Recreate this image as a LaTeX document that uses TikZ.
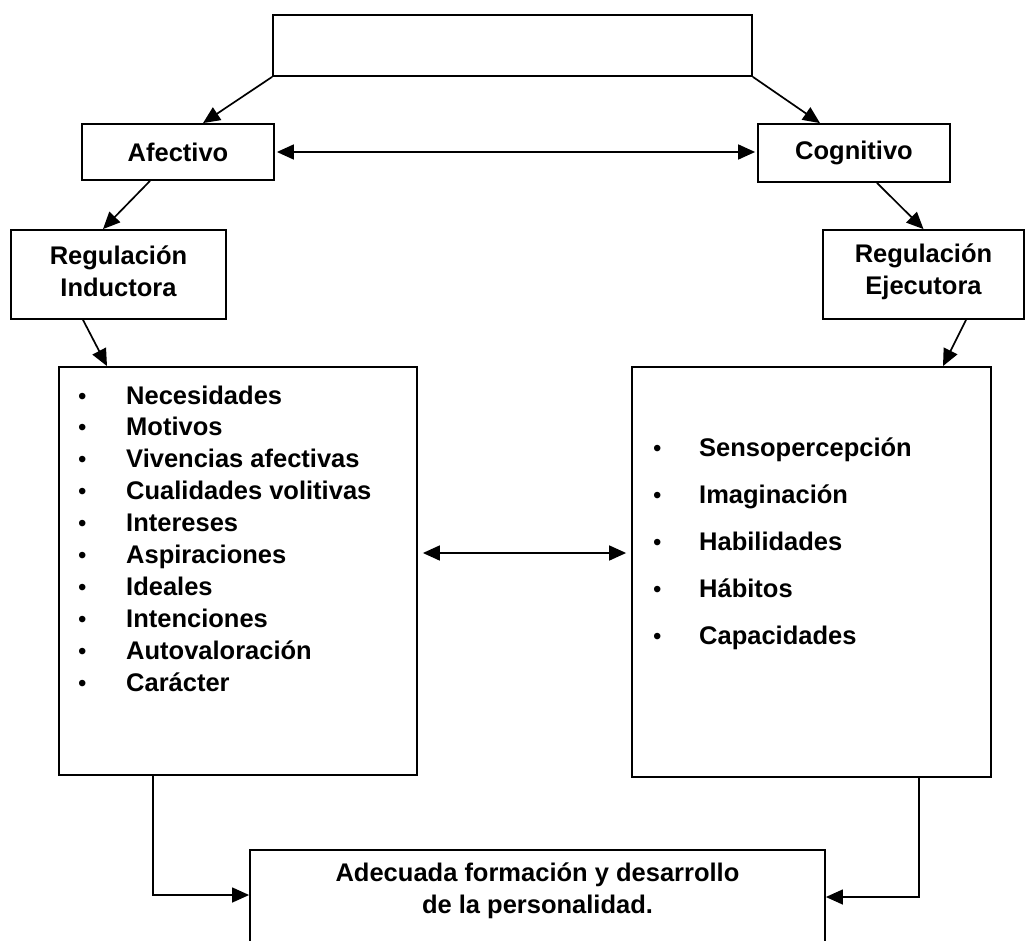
\documentclass[tikz,border=0pt]{standalone}
\usepackage{fontspec}
\setmainfont{Liberation Sans}
\usetikzlibrary{arrows.meta}
\begin{document}
\begin{tikzpicture}[x=1pt,y=-1pt,
  box/.style={draw, line width=1.8pt, inner sep=0pt, align=center,
    font=\fontsize{25.5}{32}\selectfont\bfseries},
  tip/.tip={Triangle[length=17pt,width=15pt]},
  conn/.style={line width=1.7pt, -tip},
  dconn/.style={line width=1.7pt, tip-tip},
  item/.style={anchor=base west, inner sep=0pt, font=\fontsize{25.5}{32}\selectfont\bfseries},
  bul/.style={anchor=base west, inner sep=0pt, font=\fontsize{24}{28}\selectfont}]
\useasboundingbox (0,0) rectangle (1027,941);
\clip (0,0) rectangle (1027,941);

% boxes
\node[box, minimum width=479pt, minimum height=61pt] (top) at (512.5,45.5) {};
\node[box, minimum width=192pt, minimum height=56pt] (afe) at (178,152) {Afectivo};
\node[box, minimum width=192pt, minimum height=58pt] (cog) at (854,153) {Cognitivo};
\node[box, minimum width=215pt, minimum height=89pt] (ri) at (118.5,274.5) {};
\node[box, minimum width=201pt, minimum height=89pt] (re) at (923.5,274.5) {};
\node[box, draw=none] (ritext) at (118.5,271.5) {Regulación\\Inductora};
\node[box, draw=none] (retext) at (923.5,271.5) {Regulación\\Ejecutora};
\node[box, minimum width=358pt, minimum height=408pt] (L) at (238,571) {};
\node[box, minimum width=359pt, minimum height=410pt] (R) at (811.5,572) {};
\node[box, minimum width=575pt, minimum height=140pt, anchor=north] (fbox) at (537.5,849) {};
\node[box, draw=none] (ftext) at (537.5,891) {Adecuada formación y desarrollo\\de la personalidad.};

% left list
\foreach \t [count=\i] in {Necesidades, Motivos, Vivencias afectivas, Cualidades volitivas,
    Intereses, Aspiraciones, Ideales, Intenciones, Autovaloración, Carácter} {
  \node[bul] (lb\i) at (78,404+31.9*\i-31.9) {•};
  \node[item] (lt\i) at (126,404+31.9*\i-31.9) {\t};
}
% right list
\foreach \t [count=\i] in {Sensopercepción, Imaginación, Habilidades, Hábitos, Capacidades} {
  \node[bul] (rb\i) at (653,456+47*\i-47) {•};
  \node[item] (rt\i) at (699,456+47*\i-47) {\t};
}

% connectors
\draw[conn] (top.south west) -- ([xshift=25pt]afe.north);
\draw[conn] (top.south east) -- ([xshift=-34pt]cog.north);
\draw[dconn, shorten <=2pt, shorten >=2pt] (afe.east) -- (afe.east -| cog.west);
\draw[conn] ([xshift=-28pt]afe.south) -- ([xshift=-15.5pt]ri.north);
\draw[conn] ([xshift=23pt]cog.south) -- (re.north);
\draw[conn] ([xshift=-35.5pt]ri.south) -- ([xshift=-131pt]L.north);
\draw[conn] ([xshift=42.5pt]re.south) -- ([xshift=131.5pt]R.north);
\draw[dconn, shorten <=5pt, shorten >=5pt] ([yshift=18pt]L.east) -- ([yshift=18pt]L.east -| R.west);
\draw[conn, line width=1.4pt] ([xshift=95pt]L.south west) |- ([yshift=-46pt]fbox.north west);
\draw[conn, line width=1.4pt] ([xshift=-73pt]R.south east) |- ([yshift=-48pt]fbox.north east);
\end{tikzpicture}
\end{document}
